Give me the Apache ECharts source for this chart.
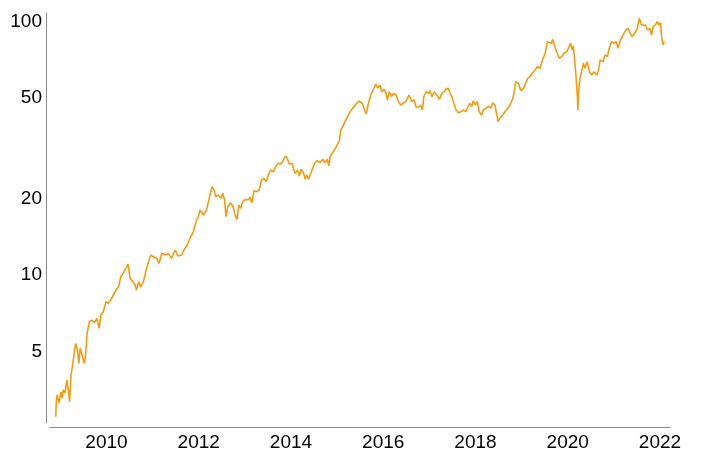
<!DOCTYPE html>
<html>
<head>
<meta charset="utf-8">
<script src="https://cdn.jsdelivr.net/npm/echarts@6/dist/echarts.min.js"></script>
<style>
html,body{margin:0;padding:0;background:#fff;}
#chart{width:707px;height:458px;}
</style>
</head>
<body>
<div id="chart"></div>
<script>
// time in decimal years
var years = [
2008.90,2008.91,2008.93,2008.97,2009.01,2009.04,2009.06,2009.10,2009.14,2009.17,
2009.20,2009.23,2009.26,2009.30,2009.33,2009.37,2009.40,2009.43,2009.48,2009.52,
2009.55,2009.58,2009.63,2009.68,2009.74,2009.79,2009.84,2009.88,2009.93,2009.99,
2010.04,2010.09,2010.15,2010.21,2010.26,2010.31,2010.36,2010.42,2010.47,2010.51,
2010.57,2010.62,2010.65,2010.70,2010.74,2010.80,2010.86,2010.91,2010.96,2011.01,
2011.09,2011.14,2011.20,2011.27,2011.34,2011.41,2011.49,2011.55,2011.63,2011.68,
2011.75,2011.81,2011.88,2011.94,2011.98,2012.03,2012.10,2012.17,2012.21,2012.26,
2012.29,2012.33,2012.37,2012.42,2012.48,2012.52,2012.56,2012.59,2012.63,2012.69,
2012.75,2012.79,2012.83,2012.87,2012.91,2012.95,2013.02,2013.07,2013.11,2013.15,
2013.20,2013.26,2013.31,2013.36,2013.41,2013.46,2013.51,2013.56,2013.62,2013.67,
2013.72,2013.78,2013.83,2013.88,2013.92,2013.96,2014.02,2014.05,2014.09,2014.14,
2014.18,2014.22,2014.27,2014.31,2014.34,2014.38,2014.43,2014.47,2014.52,2014.57,
2014.63,2014.69,2014.74,2014.79,2014.82,2014.85,2014.90,2014.95,2015.00,2015.05,
2015.08,2015.12,2015.17,2015.21,2015.28,2015.34,2015.41,2015.47,2015.54,2015.58,
2015.63,2015.67,2015.73,2015.80,2015.84,2015.88,2015.93,2015.97,2016.02,2016.06,
2016.09,2016.13,2016.18,2016.22,2016.28,2016.33,2016.38,2016.43,2016.49,2016.56,
2016.62,2016.67,2016.71,2016.76,2016.81,2016.85,2016.88,2016.93,2016.98,2017.01,
2017.06,2017.10,2017.16,2017.22,2017.27,2017.32,2017.36,2017.41,2017.45,2017.49,
2017.53,2017.58,2017.63,2017.68,2017.74,2017.79,2017.84,2017.88,2017.92,2017.95,
2018.00,2018.04,2018.08,2018.13,2018.17,2018.23,2018.28,2018.33,2018.37,2018.42,
2018.46,2018.49,2018.53,2018.59,2018.64,2018.70,2018.75,2018.81,2018.84,2018.87,
2018.93,2018.98,2019.04,2019.09,2019.13,2019.18,2019.24,2019.29,2019.34,2019.40,
2019.44,2019.46,2019.51,2019.56,2019.60,2019.65,2019.67,2019.72,2019.77,2019.82,
2019.87,2019.92,2019.98,2020.03,2020.06,2020.10,2020.12,2020.15,2020.18,2020.21,
2020.22,2020.24,2020.27,2020.30,2020.34,2020.37,2020.42,2020.47,2020.52,2020.57,
2020.63,2020.67,2020.70,2020.76,2020.81,2020.86,2020.90,2020.95,2021.00,2021.05,
2021.09,2021.13,2021.18,2021.22,2021.26,2021.31,2021.35,2021.39,2021.45,2021.51,
2021.55,2021.60,2021.64,2021.68,2021.73,2021.78,2021.82,2021.85,2021.90,2021.94,
2021.98,2022.01,2022.04,2022.07,2022.09
];
var prices = [
2.76,3.12,3.36,3.12,3.46,3.27,3.52,3.42,3.85,3.52,
3.16,4.03,4.35,4.38,5.37,5.06,4.48,5.14,4.76,4.48,
4.91,5.89,6.54,6.64,6.48,6.75,6.16,6.95,7.16,7.85,
7.73,7.97,8.34,8.73,8.99,9.85,10.16,10.63,11.05,9.70,
9.41,9.13,8.73,9.41,8.99,9.41,10.46,11.28,12.00,11.81,
11.64,11.12,12.18,12.00,12.18,11.64,12.55,11.89,12.00,12.55,
13.14,14.00,14.78,16.19,16.79,18.06,17.26,18.06,19.47,21.33,
22.32,21.66,20.38,20.70,20.08,21.02,19.78,16.99,18.61,19.29,
18.51,17.26,16.59,18.89,18.34,19.47,19.90,19.78,20.27,19.29,
21.52,21.33,21.66,23.72,24.09,23.35,24.83,25.97,25.57,26.77,
27.61,27.43,28.27,29.50,28.89,27.43,27.61,26.38,25.20,25.97,
24.60,26.15,25.34,23.87,24.83,23.87,25.20,26.38,27.76,28.27,
27.76,28.63,27.76,28.63,26.94,29.31,30.40,31.35,32.61,33.91,
37.36,38.51,40.29,41.68,44.01,45.64,47.33,48.63,47.75,45.64,
43.21,46.90,51.35,54.73,56.75,54.73,56.24,52.91,54.08,52.15,
49.08,52.91,50.57,52.15,51.35,48.33,46.90,47.62,48.33,51.35,
48.33,49.08,46.18,45.93,46.90,44.81,50.57,52.91,52.15,53.41,
50.57,52.91,51.35,49.39,52.15,52.91,54.08,54.58,52.15,50.57,
47.62,44.81,43.73,44.13,44.81,44.13,46.18,47.62,46.18,48.76,
46.90,48.33,44.13,42.83,44.81,45.51,46.48,45.51,47.88,46.90,
46.18,40.29,41.56,42.83,44.13,45.51,46.90,49.85,52.91,57.95,
57.12,53.41,54.58,57.12,59.77,60.66,62.91,64.46,66.42,65.46,
69.53,70.62,75.05,83.37,84.68,82.17,85.21,79.68,75.05,71.72,
72.77,75.05,76.15,79.68,82.17,77.33,80.20,70.62,60.66,50.57,
44.81,54.58,60.66,63.48,68.52,65.46,69.53,63.48,61.63,63.48,
61.63,64.46,70.62,69.53,73.90,72.77,78.52,83.37,82.17,83.37,
78.52,83.37,87.27,88.62,92.73,94.17,90.02,87.27,90.02,94.17,
103.1,97.05,95.56,97.05,92.73,94.17,88.62,95.56,97.05,100.0,
97.05,99.1,86.0,80.91,83.37
];
var xTickLabels = [2010, 2012, 2014, 2016, 2018, 2020, 2022];
var yTickLabels = [5, 10, 20, 50, 100];

var seriesData = years.map(function (y, i) { return [y, prices[i]]; });

var chart = echarts.init(document.getElementById('chart'), null, {renderer: 'canvas'});
var font = "'Liberation Sans', Arial, sans-serif";
chart.setOption({
  animation: false,
  backgroundColor: '#ffffff',
  grid: {left: 50, right: 37, top: 13, bottom: 35, containLabel: false},
  xAxis: {
    type: 'value',
    min: 2008.775,
    max: 2022.217,
    offset: 4,
    axisLine: {show: true, lineStyle: {color: '#8a8a8a', width: 1}},
    axisTick: {show: false},
    splitLine: {show: false},
    axisLabel: {
      customValues: xTickLabels,
      color: '#000',
      fontSize: 19,
      fontFamily: font,
      margin: 6,
      formatter: function (v) { return String(Math.round(v)); }
    }
  },
  yAxis: {
    type: 'log',
    logBase: 10,
    min: 2.606,
    max: 108.2,
    offset: 4,
    axisLine: {show: true, lineStyle: {color: '#8a8a8a', width: 1}},
    axisTick: {show: false},
    splitLine: {show: false},
    axisLabel: {
      customValues: yTickLabels,
      color: '#000',
      fontSize: 19,
      fontFamily: font,
      margin: 4,
      formatter: function (v) { return String(Math.round(v)); }
    }
  },
  series: [{
    type: 'line',
    data: seriesData,
    showSymbol: false,
    symbol: 'none',
    lineStyle: {color: '#f39c12', width: 1.6},
    silent: true
  }]
});
</script>
</body>
</html>
